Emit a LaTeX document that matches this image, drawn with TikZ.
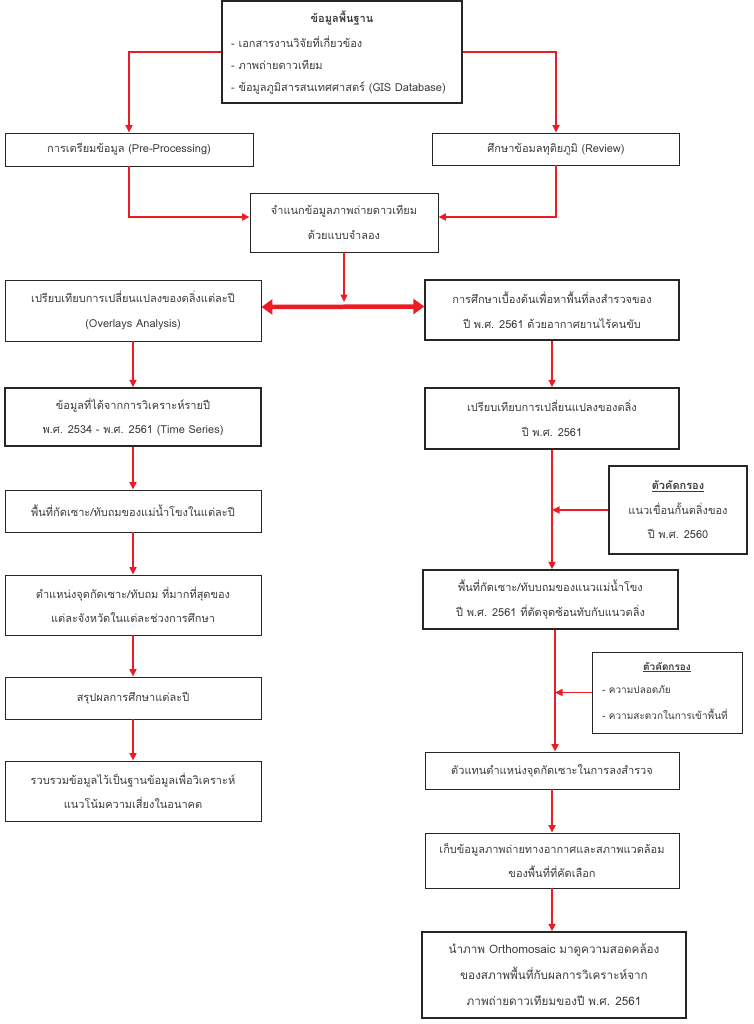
\documentclass[tikz,border=0pt]{standalone}
\usepackage{fontspec}
\setmainfont[Script=Thai]{Loma}
\usetikzlibrary{arrows.meta}
\definecolor{lr}{RGB}{236,28,36}
\definecolor{tx}{RGB}{60,60,60}
\begin{document}
\begin{tikzpicture}[x=1pt,y=-1pt,
  box/.style={draw=black!85, line width=0.9pt, fill=white, text=tx, inner sep=0pt, align=center,
    font=\fontsize{11}{24.5}\selectfont},
  tbox/.style={box, line width=1.4pt},
  lbl/.style={text=tx, inner sep=0pt, font=\fontsize{11}{12}\selectfont},
  arr/.style={draw=lr, line width=1.6pt, -{Triangle[length=7.5pt,width=7pt]}},
  dbl/.style={draw=lr, line width=4.5pt, {Triangle[length=11pt,width=15pt]}-{Triangle[length=11pt,width=15pt]}},
]
\useasboundingbox (0,0) rectangle (753,1024);
\fill[white] (0,0) rectangle (753,1024);

% top box
\node[tbox, minimum width=240pt, minimum height=102pt] (top) at (342,52) {};
\node[lbl, font=\fontsize{11}{12}\selectfont\bfseries] (t0) at (342,18) {ข้อมูลพื้นฐาน};
\node[lbl, anchor=west] (t1) at (231,42) {- เอกสารงานวิจัยที่เกี่ยวข้อง};
\node[lbl, anchor=west] (t2) at (231,65) {- ภาพถ่ายดาวเทียม};
\node[lbl, anchor=west] (t3) at (231,88) {- ข้อมูลภูมิสารสนเทศศาสตร์ (GIS Database)};

\node[box, minimum width=248pt, minimum height=33pt] (pre) at (129,149.5) {การเตรียมข้อมูล (Pre-Processing)};
\node[box, minimum width=247pt, minimum height=32pt] (rev) at (556,149) {ศึกษาข้อมลทุติยภูมิ (Review)};
\node[box, minimum width=188pt, minimum height=59pt] (cls) at (344,222.5) {จำแนกข้อมูลภาพถ่ายดาวเทียม\\ด้วยแบบจำลอง};

\node[box, minimum width=256pt, minimum height=61pt] (ov) at (133,310.5) {เปรียบเทียบการเปลี่ยนแปลงของตลิ่งแต่ละปี\\(Overlays Analysis)};
\node[tbox, minimum width=254pt, minimum height=60pt] (uav) at (552,310) {การศึกษาเบื้องต้นเพื่อหาพื้นที่ลงสำรวจของ\\ปี พ.ศ. 2561 ด้วยอากาศยานไร้คนขับ};

% left column
\node[tbox, minimum width=256pt, minimum height=58pt] (l1) at (133,417) {ข้อมูลที่ได้จากการวิเคราะห์รายปี\\พ.ศ. 2534 - พ.ศ. 2561 (Time Series)};
\node[box, minimum width=256pt, minimum height=42pt] (l2) at (133,511) {พื้นที่กัดเซาะ/ทับถมของแม่น้ำโขงในแต่ละปี};
\node[box, minimum width=256pt, minimum height=60pt] (l3) at (133,605) {ตำแหน่งจุดกัดเซาะ/ทับถม ที่มากที่สุดของ\\แต่ละจังหวัดในแต่ละช่วงการศึกษา};
\node[box, minimum width=256pt, minimum height=42pt] (l4) at (133,698) {สรุปผลการศึกษาแต่ละปี};
\node[box, minimum width=256pt, minimum height=60pt] (l5) at (133,791) {รวบรวมข้อมูลไว้เป็นฐานข้อมูลเพื่อวิเคราะห์\\แนวโน้มความเสี่ยงในอนาคต};

% right column
\node[tbox, minimum width=254pt, minimum height=61pt] (r2) at (552,418.5) {เปรียบเทียบการเปลี่ยนแปลงของตลิ่ง\\ปี พ.ศ. 2561};
\node[tbox, minimum width=138pt, minimum height=88pt] (f1) at (678,510) {\textbf{\underline{ตัวคัดกรอง}}\\แนวเขื่อนกั้นตลิ่งของ\\ปี พ.ศ. 2560};
\node[tbox, minimum width=255pt, minimum height=59pt] (r3) at (550.5,599.5) {พื้นที่กัดเซาะ/ทับบถมของแนวแม่น้ำโขง\\ปี พ.ศ. 2561 ที่ตัดจุดซ้อนทับกับแนวตลิ่ง};
\node[box, minimum width=150pt, minimum height=81pt] (f2) at (667,692.5) {};
\node[lbl, font=\fontsize{10}{10}\selectfont\bfseries] (f2t) at (667,667) {\underline{ตัวคัดกรอง}};
\node[lbl, anchor=west, font=\fontsize{10}{10}\selectfont] (f2a) at (602,690) {- ความปลอดภัย};
\node[lbl, anchor=west, font=\fontsize{10}{10}\selectfont] (f2b) at (602,714) {- ความสะดวกในการเข้าพื้นที่};
\node[box, minimum width=254pt, minimum height=37pt] (r4) at (552,770.5) {ตัวแทนตำแหน่งจุดกัดเซาะในการลงสำรวจ};
\node[box, minimum width=254pt, minimum height=55pt] (r5) at (552,860.5) {เก็บข้อมูลภาพถ่ายทางอากาศและสภาพแวดล้อม\\ของพื้นที่ที่คัดเลือก};
\node[tbox, minimum width=264pt, minimum height=86pt, font=\fontsize{11.7}{26}\selectfont] (r6) at (554,975) {นำภาพ Orthomosaic มาดูความสอดคล้อง\\ของสภาพพื้นที่กับผลการวิเคราะห์จาก\\ภาพถ่ายดาวเทียมของปี พ.ศ. 2561};

% connectors
\draw[arr] (top.west) -| (pre.north);
\draw[arr] (top.east) -| (rev.north);
\draw[arr] (pre.south) |- ([yshift=5.5pt]cls.west);
\draw[arr] (rev.south) |- ([yshift=5.5pt]cls.east);
\coordinate (meet) at (344,302);
\draw[arr] (cls.south) -- (meet);
\draw[dbl] ([yshift=3.5pt]ov.east) -- ([yshift=3.5pt]uav.west);

\draw[arr] (ov.south) -- (l1.north);
\draw[arr] (l1.south) -- (l2.north);
\draw[arr] (l2.south) -- (l3.north);
\draw[arr] (l3.south) -- (l4.north);
\draw[arr] (l4.south) -- (l5.north);

\draw[arr] (uav.south) -- (r2.north);
\draw[arr] (r2.south) -- (r2.south |- r3.north);
\draw[arr] (f1.west) -- (f1.west -| r2.south);
\coordinate (rx) at (555,0);
\draw[arr] (r3.south -| rx) -- (r4.north -| rx);
\draw[arr] (f2.west) -- (f2.west -| rx);
\draw[arr] (r4.south) -- (r5.north);
\draw[arr] (r5.south) -- (r5.south |- r6.north);
\end{tikzpicture}
\end{document}
